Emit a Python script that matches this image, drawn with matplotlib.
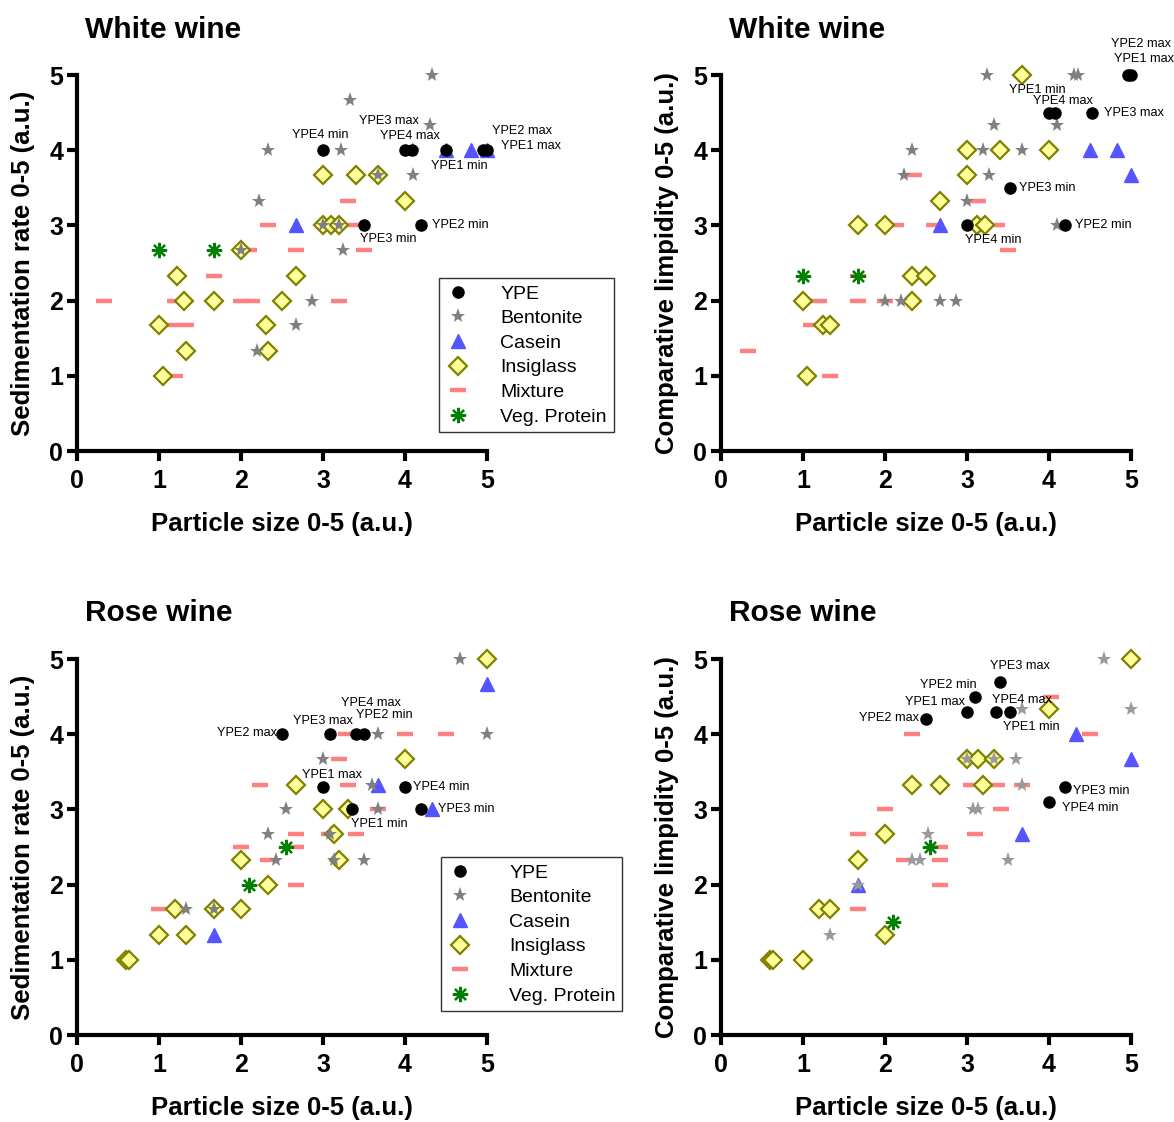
import numpy as np
import matplotlib
matplotlib.use('Agg')
import matplotlib.pyplot as plt

plt.rcParams['font.family'] = ['Liberation Sans', 'DejaVu Sans']

# ---- White wine, sedimentation rate vs particle size
p1_ype_x = [3, 4, 4.08, 4.5, 4.95, 5, 3.5, 4.2]
p1_ype_y = [4, 4, 4, 4, 4, 4, 3, 3]
p1_ype_lab = ['YPE4 min', 'YPE3 max', 'YPE4 max', 'YPE1 min', 'YPE2 max', 'YPE1 max', 'YPE3 min', 'YPE2 min']
p1_bent_x = [4.33, 3.33, 4.3, 2.33, 3.22, 4.1, 2.22, 4.1, 3.67, 2, 3, 3.2, 3.25, 2.87, 2.67, 2.2]
p1_bent_y = [5, 4.67, 4.33, 4, 4, 4, 3.33, 3.67, 3.67, 2.67, 3, 3, 2.67, 2, 1.67, 1.33]
p1_cas_x = [2.67, 4.5, 4.8, 5]
p1_cas_y = [3, 4, 4, 4]
p1_ins_x = [3, 3.4, 3.67, 4, 3, 3.1, 3.2, 2, 1.22, 2.67, 1.3, 1.67, 2.5, 1, 2.3, 1.33, 2.33, 1.05]
p1_ins_y = [3.67, 3.67, 3.67, 3.33, 3, 3, 3, 2.67, 2.33, 2.33, 2, 2, 2, 1.67, 1.67, 1.33, 1.33, 1]
p1_mix_x = [2.33, 3.3, 3.35, 2.1, 2.67, 3.5, 1.67, 0.33, 1.2, 2, 2.13, 3.2, 1.15, 1.33, 1.2]
p1_mix_y = [3, 3.33, 3, 2.67, 2.67, 2.67, 2.33, 2, 2, 2, 2, 2, 1.67, 1.67, 1]
p1_veg_x = [1, 1.67]
p1_veg_y = [2.67, 2.67]

# ---- White wine, comparative limpidity vs particle size
p2_ype_x = [4.97, 5, 4, 4.07, 4.53, 3.52, 3, 4.2]
p2_ype_y = [5, 5, 4.5, 4.5, 4.5, 3.5, 3, 3]
p2_ype_lab = ['YPE2 max', 'YPE1 max', 'YPE1 min', 'YPE4 max', 'YPE3 max', 'YPE3 min', 'YPE4 min', 'YPE2 min']
p2_bent_x = [3.25, 4.3, 4.35, 3.33, 4.1, 2.33, 3.2, 3.67, 2.23, 3.27, 3, 4.1, 2, 2.2, 2.67, 2.87]
p2_bent_y = [5, 5, 5, 4.33, 4.33, 4, 4, 4, 3.67, 3.67, 3.33, 3, 2, 2, 2, 2]
p2_cas_x = [4.5, 4.83, 5, 2.67]
p2_cas_y = [4, 4, 3.67, 3]
p2_ins_x = [3.67, 3, 3.4, 4, 3, 2.67, 1.67, 2, 3.12, 3.22, 2.33, 2.5, 1, 2.33, 1.25, 1.33, 1.05]
p2_ins_y = [5, 4, 4, 4, 3.67, 3.33, 3, 3, 3, 3, 2.33, 2.33, 2, 2, 1.67, 1.67, 1]
p2_mix_x = [2.35, 3.13, 2.13, 2.6, 3.37, 3.5, 1.67, 1.2, 1.67, 2, 1.1, 0.33, 1.33]
p2_mix_y = [3.67, 3.33, 3, 3, 3, 2.67, 2.33, 2, 2, 2, 1.67, 1.33, 1]
p2_veg_x = [1, 1.67]
p2_veg_y = [2.33, 2.33]

# ---- Rose wine, sedimentation rate vs particle size
p3_ype_x = [2.5, 3.08, 3.4, 3.5, 3, 4, 4.2, 3.35]
p3_ype_y = [4, 4, 4, 4, 3.3, 3.3, 3, 3]
p3_ype_lab = ['YPE2 max', 'YPE3 max', 'YPE4 max', 'YPE2 min', 'YPE1 max', 'YPE4 min', 'YPE3 min', 'YPE1 min']
p3_bent_x = [4.67, 3.67, 5, 3, 3.6, 2.55, 3.67, 2.33, 3.08, 2.43, 3.13, 3.5, 1.33, 1.67]
p3_bent_y = [5, 4, 4, 3.67, 3.33, 3, 3, 2.67, 2.67, 2.33, 2.33, 2.33, 1.67, 1.67]
p3_cas_x = [5, 3.67, 4.33, 1.67]
p3_cas_y = [4.67, 3.33, 3, 1.33]
p3_ins_x = [5, 4, 2.67, 3, 3.3, 3.13, 2, 3.2, 2.33, 1.2, 1.67, 2, 1, 1.33, 0.6, 0.63]
p3_ins_y = [5, 3.67, 3.33, 3, 3, 2.67, 2.33, 2.33, 2, 1.67, 1.67, 1.67, 1.33, 1.33, 1, 1]
p3_mix_x = [3.28, 4, 4.5, 3.2, 2.23, 3.3, 3.67, 2.67, 3.07, 3.4, 2, 2.67, 2.33, 2.67, 1, 1.7]
p3_mix_y = [4, 4, 4, 3.67, 3.33, 3.33, 3, 2.67, 2.67, 2.67, 2.5, 2.5, 2.33, 2, 1.67, 1.67]
p3_veg_x = [2.55, 2.1]
p3_veg_y = [2.5, 2]

# ---- Rose wine, comparative limpidity vs particle size
p4_ype_x = [2.5, 3.4, 3.1, 3, 3.35, 3.52, 4.2, 4]
p4_ype_y = [4.2, 4.7, 4.5, 4.3, 4.3, 4.3, 3.3, 3.1]
p4_ype_lab = ['YPE2 max', 'YPE3 max', 'YPE2 min', 'YPE1 max', 'YPE4 max', 'YPE1 min', 'YPE3 min', 'YPE4 min']
p4_bent_x = [4.67, 3.67, 5, 3, 3.33, 3.6, 3.67, 3.08, 3.13, 2.53, 2.33, 2.43, 3.5, 1.67, 1.33]
p4_bent_y = [5, 4.33, 4.33, 3.67, 3.67, 3.67, 3.33, 3, 3, 2.67, 2.33, 2.33, 2.33, 2, 1.33]
p4_cas_x = [4.33, 5, 3.67, 1.67]
p4_cas_y = [4, 3.67, 2.67, 2]
p4_ins_x = [5, 4, 2.33, 2.67, 3, 3.13, 3.33, 3.2, 2, 1.67, 1.2, 1.33, 2, 0.6, 0.63, 1]
p4_ins_y = [5, 4.33, 3.33, 3.33, 3.67, 3.67, 3.67, 3.33, 2.67, 2.33, 1.67, 1.67, 1.33, 1, 1, 1]
p4_mix_x = [2.33, 4.03, 4.5, 2, 3.05, 3.37, 3.67, 3.42, 1.67, 3.1, 2.67, 2.23, 2.67, 2.67, 1.67]
p4_mix_y = [4, 4.5, 4, 3, 3.33, 3.33, 3.33, 3, 2.67, 2.67, 2.5, 2.33, 2.33, 2, 1.67]
p4_veg_x = [2.55, 2.1]
p4_veg_y = [2.5, 1.5]

ticks = [0, 1, 2, 3, 4, 5]

# label offsets (pixels) for the YPE annotations: dx, dy, ha
p1_off = [(-3, 15, 'center'), (14, 29, 'right'), (-2, 14, 'center'), (13, -16, 'center'),
          (9, 19, 'left'), (14, 4, 'left'), (24, -14, 'center'), (11, 0, 'left')]
p2_off = [(13, 31, 'center'), (13, 16, 'center'), (-12, 23, 'center'), (8, 12, 'center'),
          (12, 0, 'left'), (9, 0, 'left'), (26, -15, 'center'), (10, 0, 'left')]
p3_off = [(-5, 1, 'right'), (-7, 13, 'center'), (15, 31, 'center'), (20, 19, 'center'),
          (9, 12, 'center'), (8, 0, 'left'), (17, 0, 'left'), (28, -15, 'center')]
p4_off = [(-7, 1, 'right'), (20, 16, 'center'), (-27, 12, 'center'), (-32, 10, 'center'),
          (26, 12, 'center'), (22, -15, 'center'), (8, -4, 'left'), (13, -6, 'left')]


def panel(ax, ype_x, ype_y, ype_lab, off, bx, by, cx, cy, ix, iy, mx, my, vx, vy, star_col='#808080'):
    ax.plot(mx, my, ls='none', marker='_', ms=11, mew=3.2, color='#ff8080', label='Mixture', zorder=3, clip_on=False)
    ax.plot(ix, iy, ls='none', marker='D', ms=9.5, mfc='#ffff99', mec='#808000', mew=1.6, label='Insiglass', zorder=4, clip_on=False)
    ax.plot(vx, vy, ls='none', marker=(8, 2, 0), ms=11, mew=1.6, color='#008000', label='Veg. Protein', zorder=5, clip_on=False)
    ax.plot(cx, cy, ls='none', marker='^', ms=10, color='#5555ff', label='Casein', zorder=5, clip_on=False)
    ax.plot(bx, by, ls='none', marker='*', ms=11, color=star_col, mew=0, label='Bentonite', zorder=6, clip_on=False)
    ax.plot(ype_x, ype_y, ls='none', marker='o', ms=8, color='black', label='YPE', zorder=7, clip_on=False)
    for x, y, t, (dx, dy, ha) in zip(ype_x, ype_y, ype_lab, off):
        ax.annotate(t, (x, y), xytext=(dx, dy), textcoords='offset pixels',
                    ha=ha, va='center', fontsize=9.2, zorder=8, annotation_clip=False)
    ax.set_xlim(0, 5)
    ax.set_ylim(0, 5)
    ax.set_xticks(ticks)
    ax.set_yticks(ticks)
    for s in ['top', 'right']:
        ax.spines[s].set_visible(False)
    for s in ['left', 'bottom']:
        ax.spines[s].set_linewidth(3)
    ax.tick_params(direction='out', length=7, width=3, labelsize=18)
    ax.tick_params(axis='x', pad=6)
    ax.tick_params(axis='y', pad=3)
    for lab in ax.get_xticklabels() + ax.get_yticklabels():
        lab.set_fontweight('bold')
    ax.set_xlabel('Particle size 0-5 (a.u.)', fontsize=18.5, fontweight='bold', va='center')
    ax.xaxis.set_label_coords(0.5, -0.194)


fig = plt.figure(figsize=(11.74, 11.22), dpi=100)
ax1 = fig.add_axes([0.0656, 0.598, 0.3492, 0.3351])
ax2 = fig.add_axes([0.6141, 0.598, 0.3492, 0.3351])
ax3 = fig.add_axes([0.0656, 0.0775, 0.3492, 0.3351])
ax4 = fig.add_axes([0.6141, 0.0775, 0.3492, 0.3351])

panel(ax1, p1_ype_x, p1_ype_y, p1_ype_lab, p1_off, p1_bent_x, p1_bent_y, p1_cas_x, p1_cas_y,
      p1_ins_x, p1_ins_y, p1_mix_x, p1_mix_y, p1_veg_x, p1_veg_y)
panel(ax2, p2_ype_x, p2_ype_y, p2_ype_lab, p2_off, p2_bent_x, p2_bent_y, p2_cas_x, p2_cas_y,
      p2_ins_x, p2_ins_y, p2_mix_x, p2_mix_y, p2_veg_x, p2_veg_y)
panel(ax3, p3_ype_x, p3_ype_y, p3_ype_lab, p3_off, p3_bent_x, p3_bent_y, p3_cas_x, p3_cas_y,
      p3_ins_x, p3_ins_y, p3_mix_x, p3_mix_y, p3_veg_x, p3_veg_y)
panel(ax4, p4_ype_x, p4_ype_y, p4_ype_lab, p4_off, p4_bent_x, p4_bent_y, p4_cas_x, p4_cas_y,
      p4_ins_x, p4_ins_y, p4_mix_x, p4_mix_y, p4_veg_x, p4_veg_y, star_col='#9a9a9a')

for a in [ax1, ax3]:
    a.set_ylabel('Sedimentation rate 0-5 (a.u.)', fontsize=18.5, fontweight='bold', va='center')
for a in [ax2, ax4]:
    a.set_ylabel('Comparative limpidity 0-5 (a.u.)', fontsize=18.5, fontweight='bold', va='center')
for a in [ax1, ax2, ax3, ax4]:
    a.yaxis.set_label_coords(-0.132, 0.5)

order = ['YPE', 'Bentonite', 'Casein', 'Insiglass', 'Mixture', 'Veg. Protein']
for a, anchor, tpad in [(ax1, (0.883, 0.46), 1.55), (ax3, (0.888, 0.473), 1.9)]:
    h, l = a.get_legend_handles_labels()
    hd = dict(zip(l, h))
    leg = a.legend([hd[k] for k in order], order, loc='upper left', bbox_to_anchor=anchor,
                   borderaxespad=0, fontsize=14, frameon=True, fancybox=False, edgecolor='black',
                   borderpad=0.35, labelspacing=0.36, handlelength=1.25, handletextpad=tpad)
    leg.get_frame().set_linewidth(1.0)
    leg.set_zorder(10)

fig.text(85 / 1174, 1 - 30 / 1122, 'White wine', fontsize=21.5, fontweight='bold', va='center')
fig.text(729 / 1174, 1 - 30 / 1122, 'White wine', fontsize=21.5, fontweight='bold', va='center')
fig.text(85 / 1174, 1 - 613 / 1122, 'Rose wine', fontsize=21.5, fontweight='bold', va='center')
fig.text(729 / 1174, 1 - 613 / 1122, 'Rose wine', fontsize=21.5, fontweight='bold', va='center')

fig.savefig('out.png', dpi=100)
